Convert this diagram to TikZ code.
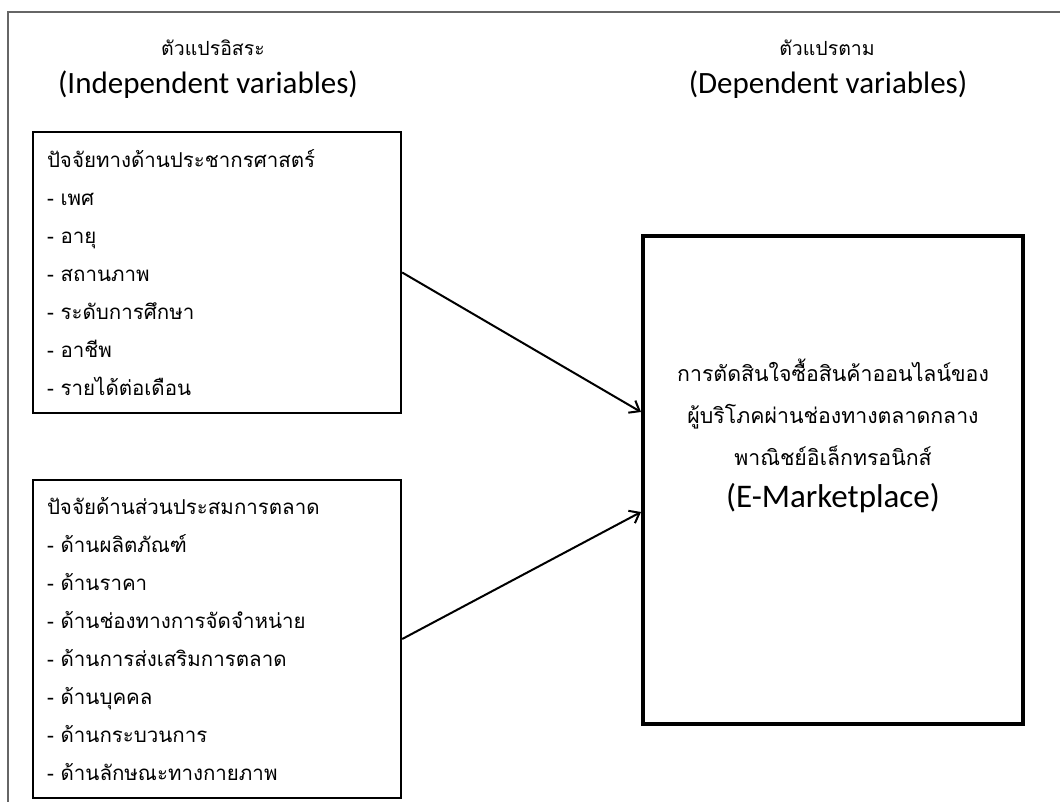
\documentclass[tikz,border=0pt]{standalone}
\usepackage{fontspec}
\setmainfont{Carlito}
\newfontfamily\thaifont[Script=Thai]{Loma}
\usepackage{tikz}
\usetikzlibrary{arrows.meta}
\usetikzlibrary{calc}
\usetikzlibrary{positioning}

\tikzset{
  factorbox/.style={draw,line width=2.4pt,minimum width=368pt,align=left,
    text width=340pt,inner xsep=14pt,font=\thaifont\fontsize{20.5}{38}\selectfont},
  depbox/.style={draw,line width=4pt,minimum width=380pt,minimum height=488pt},
  headth/.style={font=\thaifont\fontsize{19.5}{22}\selectfont},
  headen/.style={font=\fontsize{31}{34}\selectfont},
  link/.style={line width=2pt,-{Straight Barb[length=9pt,width=14pt]}}
}

\begin{document}
\begin{tikzpicture}[x=1pt,y=-1pt]
      \useasboundingbox (0,0) rectangle (1060,802);
      \draw[line width=1.8pt,black!60] (8,802) -- (8,12) -- (1060,12);
      % headings
      \node[headth] (indepth) at (213,48) {ตัวแปรอิสระ};
      \node[headen] (indepen) at (208,85) {(Independent variables)};
      \node[headth] (depth) at (827,48) {ตัวแปรตาม};
      \node[headen] (depen) at (828,85) {(Dependent variables)};
      % boxes
      \node[factorbox,minimum height=281pt] (demo) at (217,272.5) {%
        ปัจจัยทางด้านประชากรศาสตร์\\
        - เพศ\\
        - อายุ\\
        - สถานภาพ\\
        - ระดับการศึกษา\\
        - อาชีพ\\
        - รายได้ต่อเดือน};
      \node[factorbox,minimum height=318pt] (mix) at (217,639) {%
        ปัจจัยด้านส่วนประสมการตลาด\\
        - ด้านผลิตภัณฑ์\\
        - ด้านราคา\\
        - ด้านช่องทางการจัดจำหน่าย\\
        - ด้านการส่งเสริมการตลาด\\
        - ด้านบุคคล\\
        - ด้านกระบวนการ\\
        - ด้านลักษณะทางกายภาพ};
      \node[depbox] (dep) at (833,480) {};
      \node[align=center,font=\thaifont\fontsize{21.3}{42}\selectfont] (deptext) at ($(dep.center)+(0,-44)$) {%
        การตัดสินใจซื้อสินค้าออนไลน์ของ\\
        ผู้บริโภคผ่านช่องทางตลาดกลาง\\
        พาณิชย์อิเล็กทรอนิกส์\\
        {\rmfamily\fontsize{33}{42}\selectfont (E-Marketplace)}};
      % arrows
      \coordinate (in1) at ($(dep.west)+(0,-68)$);
      \coordinate (in2) at ($(dep.west)+(0,32)$);
      \draw[link] (demo.east) -- (in1);
      \draw[link] (mix.east) -- (in2);
    \end{tikzpicture}
\end{document}
